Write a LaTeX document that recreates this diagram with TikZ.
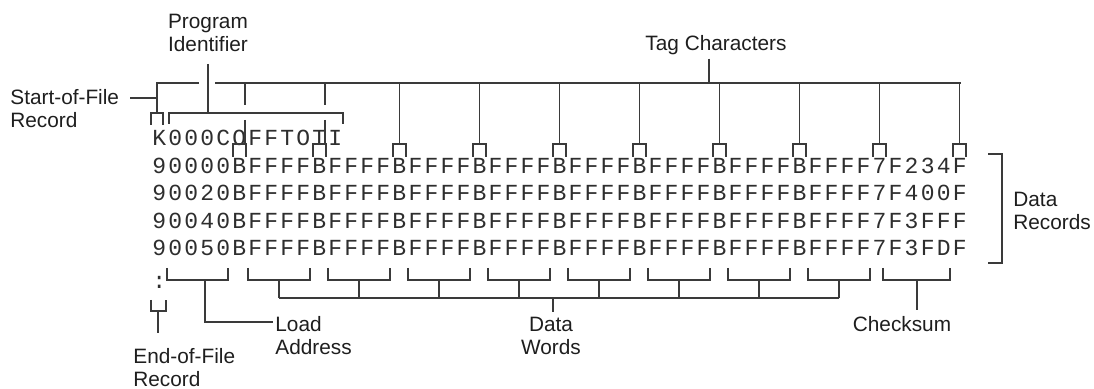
\documentclass[tikz,border=0pt]{standalone}
\usepackage{fontspec}
\setmainfont{Liberation Sans}
\newfontfamily\recfont[LetterSpace=9.6]{Liberation Mono}
\usetikzlibrary{positioning,calc}
\definecolor{cline}{HTML}{3A3A3A}
\definecolor{ctext}{HTML}{1E1E1E}
\definecolor{crec}{HTML}{2E2E2E}
\tikzset{
  lbl/.style={font=\fontsize{10.4}{11.5}\selectfont, text=ctext, inner sep=0pt, align=left},
  lblc/.style={lbl, align=center},
  rec/.style={font=\recfont\fontsize{11.5}{14}\selectfont, text=crec, inner sep=0pt, anchor=base west},
  brk/.style={draw=cline, line width=0.6pt},
  lead/.style={draw=cline, line width=0.6pt},
  leadb/.style={draw=cline, line width=1.2pt},
}
\begin{document}
\begin{tikzpicture}[x=0.5pt, y=-0.5pt]
  \useasboundingbox (0,0) rectangle (1094,389);
  % records
  \node[rec] (r0) at (152,146) {K000COFFTOTI};
  \node[rec] (r1) at (152,173.5) {90000BFFFFBFFFFBFFFFBFFFFBFFFFBFFFFBFFFFBFFFF7F234F};
  \node[rec] (r2) at (152,201) {90020BFFFFBFFFFBFFFFBFFFFBFFFFBFFFFBFFFFBFFFF7F400F};
  \node[rec] (r3) at (152,228.5) {90040BFFFFBFFFFBFFFFBFFFFBFFFFBFFFFBFFFFBFFFF7F3FFF};
  \node[rec] (r4) at (152,256) {90050BFFFFBFFFFBFFFFBFFFFBFFFFBFFFFBFFFFBFFFF7F3FDF};
  \node[rec] (eof) at (152,289) {:};
  % labels (base = last line)
  \node[lbl, anchor=base west] (sof) at (10,128) {Start-of-File\\Record};
  \node[lblc, anchor=base] (pid) at (208,52) {Program\\Identifier};
  \node[lbl, anchor=base] (tag) at (716,51) {Tag Characters};
  \node[lbl, anchor=base west] (drec) at (1013,230) {Data\\Records};
  \node[lbl, anchor=base west] (ladr) at (275,355) {Load\\Address};
  \node[lblc, anchor=base] (dwrd) at (551,355) {Data\\Words};
  \node[lbl, anchor=base] (csum) at (902,332) {Checksum};
  \node[lbl, anchor=base west] (eofl) at (133,386.5) {End-of-File\\Record};
  % start of file, program identifier
  \coordinate (kbar) at (157,113);
  \coordinate (pbar) at (208,113);
  \draw[brk] (151,125) |- (163,113) -- (163,125);
  \draw[brk] (169,124) |- (343,113) -- (343,124);
  \draw[lead] (208,64) -- (pbar);
  \draw[leadb] (130,98) -- (157,98);
  % tag characters
  \coordinate (tagl) at (157,83);
  \coordinate (tagr) at (961,83);
  \draw[lead] (kbar) |- (199,83);
  \draw[lead] (215,83) -- (tagr);
  \draw[lead] ($(tag.south)+(-7,3)$) -- (709,83);
  \foreach \i in {5,10,...,50}
    \draw[brk] ({153+16*\i},157) |- ({166+16*\i},144) -- ({166+16*\i},157);
  \foreach \i in {15,20,...,50}
    \draw[lead] ({159.5+16*\i},83) -- ({159.5+16*\i},144);
  \foreach \x in {245,325}{
    \draw[lead] (\x,83) -- (\x,105);
    \draw[lead] (\x,120) -- (\x,144);
  }
  % data records
  \draw[brk] (988,154) -| (1002,263) -- (988,263);
  % load address
  \draw[brk] (167,268) |- (228,280) -- (228,268);
  \draw[lead] (205,280) |- (273,322);
  % data words
  \foreach \k in {0,...,7}{
    \draw[brk] ({248+80*\k},268) |- ({310+80*\k},280) -- ({310+80*\k},268);
    \draw[lead] ({279+80*\k},280) -- ({279+80*\k},298);
  }
  \draw[lead] (279,298) -- (839,298);
  \draw[lead] (553,298) -- (553,312);
  % checksum
  \draw[brk] (883,268) |- (950,280) -- (950,268);
  \draw[lead] (917,280) -- (917,310);
  % end of file
  \draw[brk] (151,300) |- (166,311) -- (166,300);
  \draw[lead] (158,311) -- (158,333);
\end{tikzpicture}
\end{document}
